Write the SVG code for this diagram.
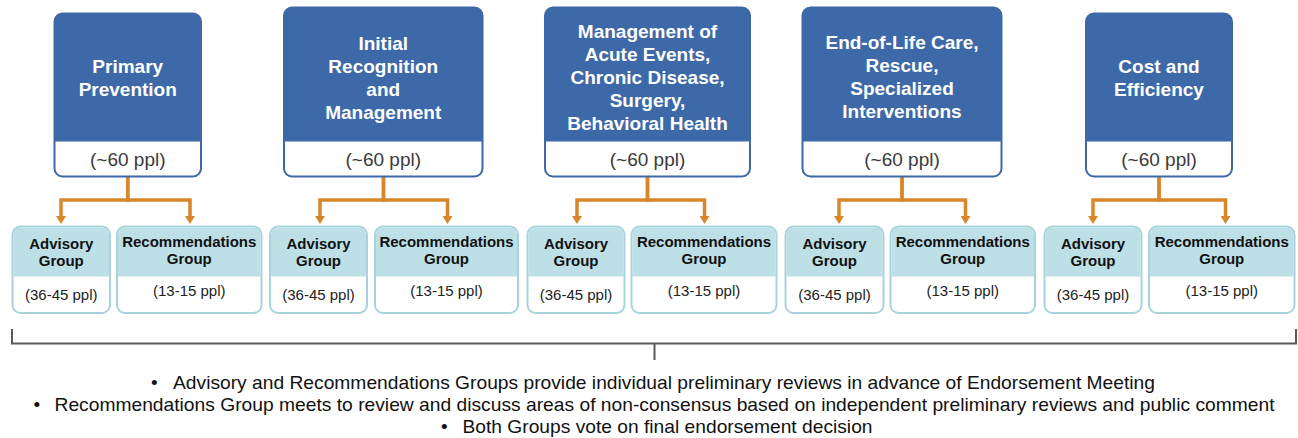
<svg xmlns="http://www.w3.org/2000/svg" width="1298" height="438" viewBox="0 0 1298 438">
<style>
text{font-family:"Liberation Sans",Arial,sans-serif}
.hd{fill:#3D69A8}
.box{fill:#fff;stroke:#3D69A8;stroke-width:2}
.ht{fill:#fff;font-weight:bold;font-size:19px;text-anchor:middle}
.ct{fill:#3a3a3a;font-size:19px;text-anchor:middle}
.lb{fill:#fff;stroke:#A8D3DC;stroke-width:2}
.lh{fill:#BDDFE6}
.lt{fill:#111;font-weight:bold;font-size:15px;text-anchor:middle}
.lc{fill:#222;font-size:15px;text-anchor:middle}
.cn{fill:none;stroke:#D9862B;stroke-width:3.5;stroke-linejoin:miter}
.br{fill:none;stroke:#595959;stroke-width:2}
.bt{fill:#111;font-size:19px}
</style>
<defs>
<marker id="ah" markerUnits="userSpaceOnUse" viewBox="0 0 8 10" refX="0" refY="5" markerWidth="8" markerHeight="10" orient="auto">
<path d="M0,0 L8,5 L0,10 Z" fill="#D9862B"/>
</marker>
</defs>

<g id="connectors">
<path class="cn" d="M127.75 177 V200 H61 V216" marker-end="url(#ah)"/>
<path class="cn" d="M127.75 177 V200 H190 V216" marker-end="url(#ah)"/>
<path class="cn" d="M383.5 177 V200 H320 V216" marker-end="url(#ah)"/>
<path class="cn" d="M383.5 177 V200 H447.5 V216" marker-end="url(#ah)"/>
<path class="cn" d="M647.5 177 V200 H577 V216" marker-end="url(#ah)"/>
<path class="cn" d="M647.5 177 V200 H704.5 V216" marker-end="url(#ah)"/>
<path class="cn" d="M902 177 V200 H839 V216" marker-end="url(#ah)"/>
<path class="cn" d="M902 177 V200 H965.5 V216" marker-end="url(#ah)"/>
<path class="cn" d="M1159 177 V200 H1093 V216" marker-end="url(#ah)"/>
<path class="cn" d="M1159 177 V200 H1225.5 V216" marker-end="url(#ah)"/>
<path class="br" d="M12 329 V343.5 H1296 V329"/>
<path class="br" d="M654.5 343.5 V360"/>
</g>

<g id="c1-top">
<rect class="box" x="54.5" y="13.5" width="146.5" height="163" rx="8"/>
<path class="hd" d="M54.5 141.5 V21.5 Q54.5 13.5 62.5 13.5 H193 Q201 13.5 201 21.5 V141.5 Z"/>
<text class="ht" x="127.75" y="73">Primary</text>
<text class="ht" x="127.75" y="96">Prevention</text>
<text class="ct" x="127.75" y="166">(~60 ppl)</text>
</g>
<g id="c2-top">
<rect class="box" x="284" y="7.5" width="198.5" height="169" rx="8"/>
<path class="hd" d="M284 141.5 V15.5 Q284 7.5 292 7.5 H474.5 Q482.5 7.5 482.5 15.5 V141.5 Z"/>
<text class="ht" x="383.25" y="49.5">Initial</text>
<text class="ht" x="383.25" y="72.5">Recognition</text>
<text class="ht" x="383.25" y="95.5">and</text>
<text class="ht" x="383.25" y="118.5">Management</text>
<text class="ct" x="383.25" y="166">(~60 ppl)</text>
</g>
<g id="c3-top">
<rect class="box" x="545" y="7.5" width="205" height="169" rx="8"/>
<path class="hd" d="M545 141.5 V15.5 Q545 7.5 553 7.5 H742 Q750 7.5 750 15.5 V141.5 Z"/>
<text class="ht" x="647.5" y="38">Management of</text>
<text class="ht" x="647.5" y="61">Acute Events,</text>
<text class="ht" x="647.5" y="84">Chronic Disease,</text>
<text class="ht" x="647.5" y="107">Surgery,</text>
<text class="ht" x="647.5" y="130">Behavioral Health</text>
<text class="ct" x="647.5" y="166">(~60 ppl)</text>
</g>
<g id="c4-top">
<rect class="box" x="802.5" y="7.5" width="199" height="169" rx="8"/>
<path class="hd" d="M802.5 141.5 V15.5 Q802.5 7.5 810.5 7.5 H993.5 Q1001.5 7.5 1001.5 15.5 V141.5 Z"/>
<text class="ht" x="902" y="48.5">End-of-Life Care,</text>
<text class="ht" x="902" y="71.5">Rescue,</text>
<text class="ht" x="902" y="94.5">Specialized</text>
<text class="ht" x="902" y="117.5">Interventions</text>
<text class="ct" x="902" y="166">(~60 ppl)</text>
</g>
<g id="c5-top">
<rect class="box" x="1086" y="13.5" width="146" height="163" rx="8"/>
<path class="hd" d="M1086 141.5 V21.5 Q1086 13.5 1094 13.5 H1224 Q1232 13.5 1232 21.5 V141.5 Z"/>
<text class="ht" x="1159" y="73">Cost and</text>
<text class="ht" x="1159" y="96">Efficiency</text>
<text class="ct" x="1159" y="166">(~60 ppl)</text>
</g>

<g id="c1-adv">
<rect class="lb" x="12.5" y="226.5" width="97.5" height="86.5" rx="8"/>
<path class="lh" d="M13.5 276.5 V234.5 Q13.5 227.5 20.5 227.5 H102 Q109 227.5 109 234.5 V276.5 Z"/>
<text class="lt" x="61.25" y="249">Advisory</text>
<text class="lt" x="61.25" y="266">Group</text>
<text class="lc" x="61.25" y="299.5">(36-45 ppl)</text>
</g>
<g id="c1-rec">
<rect class="lb" x="117" y="226.5" width="144.5" height="86.5" rx="8"/>
<path class="lh" d="M118 276.5 V234.5 Q118 227.5 125 227.5 H253.5 Q260.5 227.5 260.5 234.5 V276.5 Z"/>
<text class="lt" x="189.25" y="247">Recommendations</text>
<text class="lt" x="189.25" y="264">Group</text>
<text class="lc" x="189.25" y="296">(13-15 ppl)</text>
</g>
<g id="c2-adv">
<rect class="lb" x="270" y="226.5" width="97" height="86.5" rx="8"/>
<path class="lh" d="M271 276.5 V234.5 Q271 227.5 278 227.5 H359 Q366 227.5 366 234.5 V276.5 Z"/>
<text class="lt" x="318.5" y="249">Advisory</text>
<text class="lt" x="318.5" y="266">Group</text>
<text class="lc" x="318.5" y="299.5">(36-45 ppl)</text>
</g>
<g id="c2-rec">
<rect class="lb" x="375" y="226.5" width="143" height="86.5" rx="8"/>
<path class="lh" d="M376 276.5 V234.5 Q376 227.5 383 227.5 H510 Q517 227.5 517 234.5 V276.5 Z"/>
<text class="lt" x="446.5" y="247">Recommendations</text>
<text class="lt" x="446.5" y="264">Group</text>
<text class="lc" x="446.5" y="296">(13-15 ppl)</text>
</g>
<g id="c3-adv">
<rect class="lb" x="527.5" y="226.5" width="97" height="86.5" rx="8"/>
<path class="lh" d="M528.5 276.5 V234.5 Q528.5 227.5 535.5 227.5 H616.5 Q623.5 227.5 623.5 234.5 V276.5 Z"/>
<text class="lt" x="576" y="249">Advisory</text>
<text class="lt" x="576" y="266">Group</text>
<text class="lc" x="576" y="299.5">(36-45 ppl)</text>
</g>
<g id="c3-rec">
<rect class="lb" x="631.5" y="226.5" width="145" height="86.5" rx="8"/>
<path class="lh" d="M632.5 276.5 V234.5 Q632.5 227.5 639.5 227.5 H768.5 Q775.5 227.5 775.5 234.5 V276.5 Z"/>
<text class="lt" x="704" y="247">Recommendations</text>
<text class="lt" x="704" y="264">Group</text>
<text class="lc" x="704" y="296">(13-15 ppl)</text>
</g>
<g id="c4-adv">
<rect class="lb" x="785.5" y="226.5" width="98" height="86.5" rx="8"/>
<path class="lh" d="M786.5 276.5 V234.5 Q786.5 227.5 793.5 227.5 H875.5 Q882.5 227.5 882.5 234.5 V276.5 Z"/>
<text class="lt" x="834.5" y="249">Advisory</text>
<text class="lt" x="834.5" y="266">Group</text>
<text class="lc" x="834.5" y="299.5">(36-45 ppl)</text>
</g>
<g id="c4-rec">
<rect class="lb" x="890.5" y="226.5" width="144.5" height="86.5" rx="8"/>
<path class="lh" d="M891.5 276.5 V234.5 Q891.5 227.5 898.5 227.5 H1027 Q1034 227.5 1034 234.5 V276.5 Z"/>
<text class="lt" x="962.75" y="247">Recommendations</text>
<text class="lt" x="962.75" y="264">Group</text>
<text class="lc" x="962.75" y="296">(13-15 ppl)</text>
</g>
<g id="c5-adv">
<rect class="lb" x="1044.5" y="226.5" width="97" height="86.5" rx="8"/>
<path class="lh" d="M1045.5 276.5 V234.5 Q1045.5 227.5 1052.5 227.5 H1133.5 Q1140.5 227.5 1140.5 234.5 V276.5 Z"/>
<text class="lt" x="1093" y="249">Advisory</text>
<text class="lt" x="1093" y="266">Group</text>
<text class="lc" x="1093" y="299.5">(36-45 ppl)</text>
</g>
<g id="c5-rec">
<rect class="lb" x="1149" y="226.5" width="145.5" height="86.5" rx="8"/>
<path class="lh" d="M1150 276.5 V234.5 Q1150 227.5 1157 227.5 H1286.5 Q1293.5 227.5 1293.5 234.5 V276.5 Z"/>
<text class="lt" x="1221.75" y="247">Recommendations</text>
<text class="lt" x="1221.75" y="264">Group</text>
<text class="lc" x="1221.75" y="296">(13-15 ppl)</text>
</g>

<g id="notes">
<text class="bt" x="151" y="389">•</text>
<text class="bt" x="173" y="389" textLength="982" lengthAdjust="spacingAndGlyphs">Advisory and Recommendations Groups provide individual preliminary reviews in advance of Endorsement Meeting</text>
<text class="bt" x="33.5" y="411">•</text>
<text class="bt" x="54.5" y="411" textLength="1220" lengthAdjust="spacingAndGlyphs">Recommendations Group meets to review and discuss areas of non-consensus based on independent preliminary reviews and public comment</text>
<text class="bt" x="441" y="433">•</text>
<text class="bt" x="462.5" y="433" textLength="410" lengthAdjust="spacingAndGlyphs">Both Groups vote on final endorsement decision</text>
</g>
</svg>
